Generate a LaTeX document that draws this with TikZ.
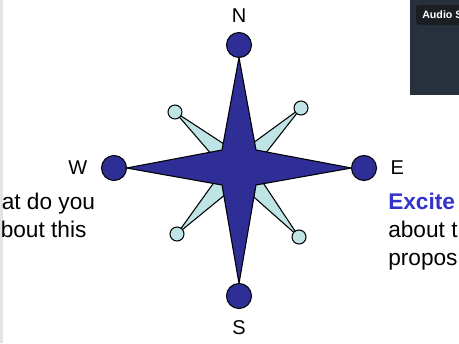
\documentclass[tikz,border=0pt]{standalone}
\usepackage{fontspec}
\setmainfont{Liberation Sans}
\usepackage{xcolor}
\usepackage{tikz}
\usetikzlibrary{positioning, calc}

\definecolor{starblue}{RGB}{46,46,150}
\definecolor{spikecyan}{RGB}{190,228,230}
\definecolor{textblue}{RGB}{51,51,204}
\definecolor{panelgray}{RGB}{39,49,61}
\definecolor{tipgray}{RGB}{27,30,34}

\begin{document}
\begin{tikzpicture}[x=0.75pt, y=-0.75pt, node distance=10pt and 10pt,
		point/.style={draw, circle, fill=starblue, line width=0.8pt, minimum size=18.75pt, inner sep=0pt},
		knob/.style={draw, circle, fill=spikecyan, line width=0.8pt, minimum size=10.5pt, inner sep=0pt},
		dir/.style={inner sep=0pt, font=\fontsize{15}{18}\selectfont},
		line/.style={inner sep=0pt, anchor=base west, font=\fontsize{17}{20}\selectfont}]
		\useasboundingbox (0,0) rectangle (459,343);
		\clip (0,0) rectangle (459,343);
		
		% Background pieces
		\fill[gray!22] (0,0) rectangle (2.5,343);
		\fill[panelgray] (410,0) rectangle (459,95);
		\fill[tipgray, rounded corners=2pt] (416,5) rectangle (470,25);
		\node[inner sep=0pt, anchor=base west, text=white, font=\bfseries\fontsize{8}{9}\selectfont] (audio) at (422,18.5) {Audio S};
		
		% Positions
		\coordinate (c) at (239,168);
		\coordinate (pN) at (239,45);
		\coordinate (pS) at (239,296);
		\coordinate (pW) at (114,168);
		\coordinate (pE) at (364,168);
		\coordinate (p1) at (175,112);
		\coordinate (p2) at (301,108);
		\coordinate (p3) at (177,234);
		\coordinate (p4) at (299,237);
		
		% Diagonal spikes
		\foreach \p in {p1, p2, p3, p4}
		\draw[fill=spikecyan, line width=0.8pt, line join=round] (\p) -- ($(c)!9pt!90:(\p)$) -- ($(c)!9pt!-90:(\p)$) -- cycle;
		
		% Star
		\draw[fill=starblue, line width=0.8pt, line join=round]
		($(pN)+(0,12.5)$) -- ($(c)+(17,-18)$) -- ($(pE)+(-12.5,0)$) -- ($(c)+(17,17)$)
		-- ($(pS)+(0,-12.5)$) -- ($(c)+(-17,17)$) -- ($(pW)+(12.5,0)$) -- ($(c)+(-17,-18)$) -- cycle;
		
		% Nodes
		\node[point] (N) at (pN) {};
		\node[point] (S) at (pS) {};
		\node[point] (W) at (pW) {};
		\node[point] (E) at (pE) {};
		\foreach \k in {1, 2, 3, 4}
		\node[knob] (k\k) at (p\k) {};
		
		% Labels
		\node[dir] (Nlab) [above=7pt of N] {N};
		\node[dir] (Slab) [below=8.5pt of S] {S};
		\node[dir] (Wlab) [left=of W] {W};
		\node[dir] (Elab) [right=of E] {E};
		
		% Slide text
		\node[line] (l1) at (1.5,209) {at do you};
		\node[line] (l2) at (0.5,237) {bout this};
		\node[line, text=textblue, font=\bfseries\fontsize{17}{20}\selectfont] (r1) at (388,209) {Excite};
		\node[line] (r2) at (388,237) {about t};
		\node[line] (r3) at (388,265) {propos};
	\end{tikzpicture}
\end{document}
